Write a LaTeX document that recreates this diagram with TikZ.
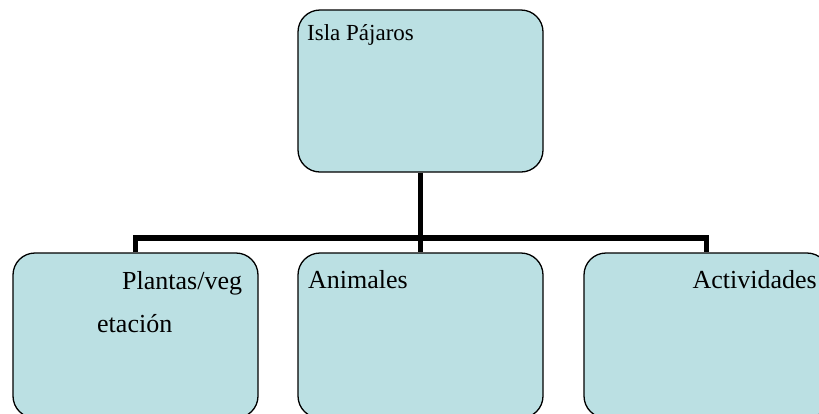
\documentclass[tikz,border=0pt]{standalone}
\usepackage{fontspec}
\setmainfont{Liberation Serif}
\usepackage{tikz}
\usetikzlibrary{positioning, calc}
\definecolor{paleteal}{RGB}{187,224,227}

\begin{document}
\begin{tikzpicture}[x=1pt,y=-1pt,
  orgbox/.style={draw, line width=1.3pt, fill=paleteal, rounded corners=22pt, inner sep=0pt, minimum width=245pt},
  orgtext/.style={inner sep=0pt, font=\fontsize{26}{43}\selectfont},
  link/.style={line width=5.5pt}]
\fill[white] (0,0) rectangle (819,413);
\clip (0,0) rectangle (819,413);
\node (isla)[orgbox, minimum height=162pt] at (420.5,91){};
\node (plantas)[orgbox, minimum height=165pt] at (135.5,335.5){};
\node (animales)[orgbox, minimum height=165pt] at (420.5,335.5){};
\node (actividades)[orgbox, minimum height=165pt] at (706.5,335.5){};
\coordinate (bar) at (420.5,238);
\draw[link] (isla.south) -- (animales.north);
\draw[link] (plantas.north) |- (bar) -| (actividades.north);
\node[orgtext, anchor=base west, font=\fontsize{23}{28}\selectfont] at (307,40){Isla Pájaros};
\node[orgtext, anchor=base west] at (122,289){Plantas/veg};
\node[orgtext, anchor=base west] at (97,332){etación};
\node[orgtext, anchor=base west] at (308,288){Animales};
\node[orgtext, anchor=base east] at (817,288){Actividades};
\end{tikzpicture}
\end{document}
